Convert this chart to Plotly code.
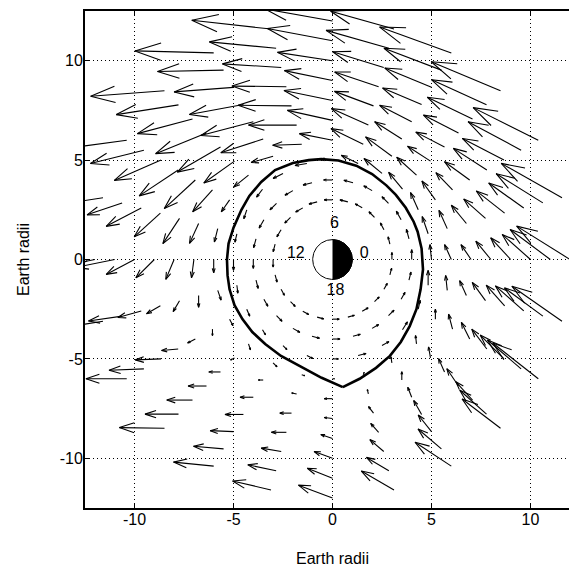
import numpy as np
import plotly.graph_objects as go

# ---- grid of the quiver field (polar): ring radii and local-time spokes ----
ring_r = [3, 4, 5, 6, 7, 8, 9, 10, 11, 12]
spoke_deg = [0, 15, 30, 45, 60, 75, 90, 105, 120, 135, 150, 165,
             180, 195, 210, 225, 240, 255, 270, 285, 300, 315, 330, 345]

# ---- vector components, one list per ring (24 spokes) ----
u_r3 = [0, -.09, -.18, -.28, -.35, -.4, -.42, -.41, -.36, -.29, -.21, -.1,
        0, .1, .17, .24, .3, .33, .34, .33, .3, .24, .17, .09]
v_r3 = [.35, .36, .34, .28, .2, .1, 0, -.11, -.21, -.29, -.36, -.38,
        -.38, -.36, -.3, -.24, -.17, -.09, 0, .09, .17, .24, .3, .34]
u_r4 = [0, -.13, -.24, -.33, -.42, -.46, -.45, -.45, -.4, -.33, -.24, -.12,
        0, .11, .2, .28, .35, .38, .38, .37, .33, .28, .2, .1]
v_r4 = [.5, .48, .43, .33, .24, .12, 0, -.12, -.23, -.33, -.42, -.44,
        -.45, -.42, -.35, -.28, -.2, -.1, 0, .1, .19, .28, .35, .4]
u_r5 = [-.08, -.3, -.39, -.7, -.91, -.85, -.6, -.6, -.5, -.3, -.15, -.1,
        0, .05, .15, .15, .2, .3, .3, .4, .35, .25, .1, 0]
v_r5 = [.75, .87, .87, .85, .75, .41, .05, -.1, -.25, -.4, -.45, -.42,
        -.55, -.4, -.35, -.25, -.2, -.15, 0, .1, .2, .4, .45, .75]
u_r6 = [-.34, -.42, -.68, -1.0, -1.33, -1.63, -1.67, -1.47, -1.11, -.75, -.42, -.17,
        0, .17, .17, .1, .2, .15, .1, .05, -.05, -.05, 0, -.08]
v_r6 = [.75, .92, .95, .9, .97, .79, .33, -.05, -.32, -.6, -.6, -.67,
        -.67, -.49, -.33, -.3, -.2, -.05, 0, .12, .3, .42, .5, .75]
u_r7 = [-.51, -.76, -.84, -1.16, -1.37, -1.87, -2.28, -2.43, -2.14, -1.55, -1.0, -.46,
        -.12, 0, 0, -.2, -.25, -.25, -.42, -.05, 0, -.1, -.2, -.34]
v_r7 = [.75, .92, .87, .75, .87, .83, .5, 0, -.69, -1.1, -1.1, -1.0,
        -.92, -.59, -.33, -.1, 0, .05, 0, .22, .42, .55, .75, .75]
u_r8 = [-.76, -1.1, -1.27, -1.45, -1.62, -1.97, -2.45, -2.7, -2.65, -2.18, -1.57, -.84,
        -.42, -.32, -.39, -.59, -.67, -.59, -.42, -.25, -.2, -.3, -.42, -.67]
v_r8 = [.92, .97, .92, .75, .83, .73, .5, .03, -.69, -1.26, -1.44, -1.27,
        -1.0, -.55, -.2, 0, 0, 0, .05, .33, .5, .67, .84, .92]
u_r9 = [-1.01, -1.43, -1.69, -1.77, -1.97, -2.22, -2.43, -2.75, -2.73, -2.57, -1.97, -1.32,
        -.93, -.7, -.84, -.93, -.93, -.76, -.59, -.4, -.4, -.59, -.76, -.93]
v_r9 = [1.09, 1.12, 1.09, .9, .83, .74, .5, .03, -.5, -1.04, -1.3, -1.19,
        -.92, -.4, -.08, 0, 0, 0, .2, .45, .7, .87, 1.0, 1.04]
u_r10 = [-1.43, -1.77, -2.1, -2.28, -2.36, -2.58, -2.78, -2.97, -3.0, -2.78, -2.36, -1.77,
         -1.43, -1.18, -1.3, -1.3, -1.18, -1.01, -.93, -.7, -.67, -.84, -1.2, -1.43]
v_r10 = [1.26, 1.26, 1.09, 1.09, .97, .79, .42, .18, -.23, -.74, -1.02, -.92,
         -.75, -.33, -.05, 0, .05, .17, .34, .6, .84, .92, 1.2, 1.26]
u_r11 = [-2.03, -2.36, -2.68, -2.77, -2.9, -3.17, -3.29, -3.37, -3.34, -3.14, -2.7, -1.77,
         -2.0, -1.7, -1.76, -1.69, -1.52, -1.43, -1.27, -1.13, -1.18, -1.35, -1.7, -1.94]
v_r11 = [1.51, 1.47, 1.43, 1.26, 1.1, .9, .62, .32, -.07, -.49, -.67, -.6,
         -.4, -.25, -.07, 0, .13, .3, .5, .67, 1.0, 1.2, 1.45, 1.42]
u_r12 = [-2.7, -3.07, -3.29, -3.5, -3.62, -3.2, -3.4, -4.0, -3.98, -3.73, -3.9, -2.0,
         -2.2, -1.9, -2.06, -2.28, -2.03, -1.94, -1.72, -1.65, -1.83, -1.94, -2.3, -2.53]
v_r12 = [1.68, 1.73, 1.64, 1.46, 1.3, .9, .6, .44, .1, -.27, -.53, -.3,
         -.45, -.3, 0, .03, .2, .45, .65, .95, 1.2, 1.47, 1.8, 1.76]

rings_u = [u_r3, u_r4, u_r5, u_r6, u_r7, u_r8, u_r9, u_r10, u_r11, u_r12]
rings_v = [v_r3, v_r4, v_r5, v_r6, v_r7, v_r8, v_r9, v_r10, v_r11, v_r12]

# ---- plasmapause (last closed equipotential) ----
pp_x = [0.52, 1.37, 2.2, 2.9, 3.45, 3.9, 4.24, 4.45, 4.57, 4.5, 4.3, 4.1, 3.7, 3.2,
        2.72, 2.0, 1.2, 0.3, -0.57, -1.2, -2.0, -2.9, -3.6, -4.2, -4.6, -5.0, -5.25,
        -5.33, -5.3, -5.2, -4.95, -4.55, -4.05, -3.4, -2.6, -1.6, -0.55, 0.52]
pp_y = [-6.42, -6.0, -5.45, -4.85, -4.15, -3.35, -2.5, -1.5, -0.5, 0.55, 1.4, 1.9, 2.6, 3.25,
        3.73, 4.3, 4.72, 4.98, 5.05, 5.0, 4.85, 4.5, 3.9, 3.2, 2.5, 1.6, 0.8,
        0, -0.8, -1.5, -2.3, -3.0, -3.65, -4.25, -4.85, -5.4, -5.95, -6.42]

# local-time labels around the Earth
lt_text = ["6", "18", "12", "0"]
lt_x = [0.1, 0.15, -1.85, 1.6]
lt_y = [1.78, -1.6, 0.3, 0.3]

axis_ticks = [-10, -5, 0, 5, 10]
axis_ticktext = ["-10", "-5", "0", "5", "10"]

# ---- build quiver segments (MATLAB-style arrowheads) ----
alpha, beta = 0.33, 0.33
qx, qy = [], []
for r, U, V in zip(ring_r, rings_u, rings_v):
    for th, u, v in zip(spoke_deg, U, V):
        t = np.deg2rad(th)
        x0, y0 = r * np.cos(t), r * np.sin(t)
        tx, ty = x0 + u, y0 + v
        qx += [x0, tx, None,
               tx - alpha * (u + beta * v), tx, tx - alpha * (u - beta * v), None]
        qy += [y0, ty, None,
               ty - alpha * (v - beta * u), ty, ty - alpha * (v + beta * u), None]

FONT = "Liberation Sans, Arial, sans-serif"

fig = go.Figure()
fig.add_trace(go.Scatter(x=qx, y=qy, mode="lines",
                         line=dict(color="black", width=1.1),
                         hoverinfo="skip", showlegend=False))
fig.add_trace(go.Scatter(x=pp_x, y=pp_y, mode="lines",
                         line=dict(color="black", width=2.6),
                         hoverinfo="skip", showlegend=False))

# Earth: day side white (left), night side black (right)
a = np.linspace(0, 2 * np.pi, 121)
fig.add_trace(go.Scatter(x=np.cos(a), y=np.sin(a), mode="lines", fill="toself",
                         fillcolor="white", line=dict(color="black", width=1),
                         hoverinfo="skip", showlegend=False))
h = np.linspace(-np.pi / 2, np.pi / 2, 61)
fig.add_trace(go.Scatter(x=np.cos(h), y=np.sin(h), mode="lines", fill="toself",
                         fillcolor="black", line=dict(color="black", width=1),
                         hoverinfo="skip", showlegend=False))
fig.add_trace(go.Scatter(x=lt_x, y=lt_y, mode="text", text=lt_text,
                         textfont=dict(family=FONT, size=16, color="black"),
                         hoverinfo="skip", showlegend=False))

axis_common = dict(
    range=[-12.5, 12.5], tickvals=axis_ticks, ticktext=axis_ticktext,
    ticks="inside", ticklen=5,
    tickwidth=1, tickcolor="black", showline=True, linecolor="black", linewidth=2,
    mirror="ticks", showgrid=True, gridcolor="black", gridwidth=1, griddash="1px,3px",
    zeroline=False, tickfont=dict(family=FONT, size=16, color="black"),
)
fig.update_xaxes(**axis_common, ticklabelstandoff=-4,
                 title=dict(text="Earth radii", standoff=26,
                            font=dict(family=FONT, size=16, color="black")))
fig.update_yaxes(**axis_common, ticklabelstandoff=-3,
                 title=dict(text="Earth radii", standoff=26,
                            font=dict(family=FONT, size=16, color="black")))

fig.update_layout(width=577, height=569,
                  margin=dict(l=77, r=5, t=1, b=69),
                  paper_bgcolor="white", plot_bgcolor="white")

fig.write_html("out.html")
